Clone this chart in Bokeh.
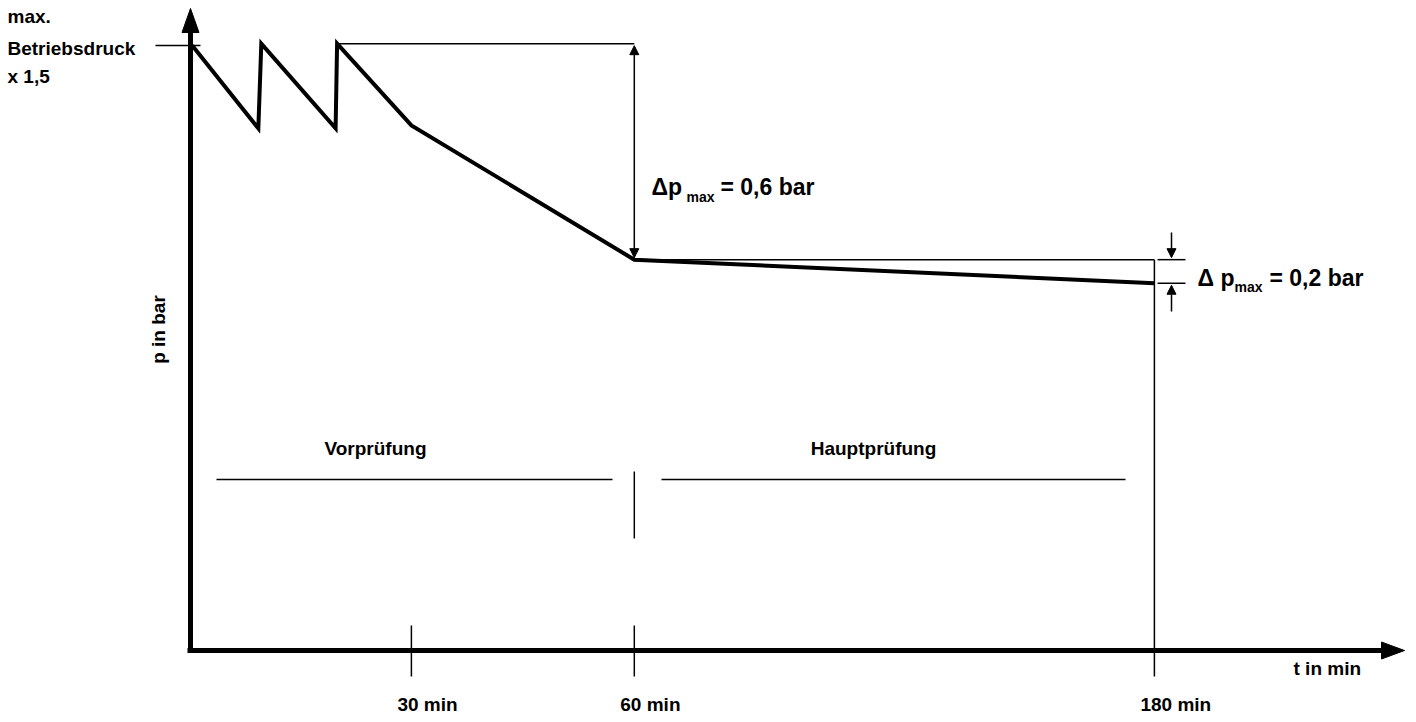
from bokeh.plotting import figure
from bokeh.models import Range1d, Arrow, NormalHead, Label
from bokeh.embed import file_html
from bokeh.resources import INLINE
from bokeh.core.properties import value

# ---- data (schematic time units / schematic pressure units) ----
time_pts = [0.5, 9.4, 9.8, 19.8, 20.0, 30.0, 60.0, 130.0]
pressure_pts = [10.0, 8.63, 10.03, 8.63, 10.03, 8.68, 6.46, 6.07]
tick_times = [30, 60, 130]
tick_labels = ["30 min", "60 min", "180 min"]
phase_labels = ["Vorprüfung", "Hauptprüfung"]
delta_values = ["0,6", "0,2"]
y_label_lines = ["max.", "Betriebsdruck", "x 1,5"]

# ---- layout constants (screen pixels) ----
W, H = 1408, 714
OX, OY = 0, 0
X0, KX = 188.0, 7.43
Y0, KY = 650.0, 60.5
TY = -7  # text baseline correction


def sx(X):
    return (X - X0) / KX


def sy(Y):
    return (Y0 - Y) / KY


p = figure(width=W, height=H, output_backend="svg", toolbar_location=None,
           x_axis_type=None, y_axis_type=None, min_border=0,
           x_range=Range1d(sx(OX), sx(OX + W)), y_range=Range1d(sy(OY + H), sy(OY)))
p.grid.visible = False
p.outline_line_color = None
p.background_fill_color = "white"
p.border_fill_color = "white"

FONT = "Liberation Sans"

# axes
p.line([sx(190), sx(190)], [sy(652), sy(30)], line_width=5, color="black")
p.line([sx(187), sx(1384)], [sy(650), sy(650)], line_width=5, color="black")
p.patch([sx(181.5), sx(190), sx(198.5)], [sy(32), sy(8), sy(32)], color="black")
p.patch([sx(1381), sx(1404), sx(1381)], [sy(641.5), sy(650), sy(658.5)], color="black")

# pressure curve
p.line(time_pts, pressure_pts, line_width=4, color="black", line_join="miter")

# reference lines
p_top = pressure_pts[4]
p_knee = pressure_pts[6]
p_end = pressure_pts[7]
t60 = tick_times[1]
t180 = tick_times[2]
p.line([sx(155), sx(200)], [pressure_pts[0], pressure_pts[0]], line_width=1.5, color="black")
p.line([time_pts[4], t60], [p_top, p_top], line_width=1.5, color="black")
p.line([t60, t180], [p_knee, p_knee], line_width=1.5, color="black")
p.line([t180, t180], [p_knee, sy(676)], line_width=1.5, color="black")

# ticks
for t in tick_times[:2]:
    p.line([t, t], [sy(625), sy(676)], line_width=1.5, color="black")

# double arrow 0.6 bar
p.add_layout(Arrow(x_start=t60, y_start=p_top - 2 / KY, x_end=t60, y_end=p_knee + 2 / KY,
                   start=NormalHead(size=9, fill_color="black", line_color="black"),
                   end=NormalHead(size=9, fill_color="black", line_color="black"),
                   line_width=1.5, line_color="black"))

# small arrows 0.2 bar
xa = sx(1171)
p.line([sx(1157), sx(1185)], [p_knee, p_knee], line_width=1.5, color="black")
p.line([sx(1157), sx(1185)], [p_end, p_end], line_width=1.5, color="black")
p.add_layout(Arrow(x_start=xa, y_start=sy(232), x_end=xa, y_end=p_knee + 2 / KY,
                   end=NormalHead(size=9, fill_color="black", line_color="black"),
                   line_width=1.5, line_color="black"))
p.add_layout(Arrow(x_start=xa, y_start=sy(311), x_end=xa, y_end=p_end - 2 / KY,
                   end=NormalHead(size=9, fill_color="black", line_color="black"),
                   line_width=1.5, line_color="black"))

# phase lines
p.line([sx(216), sx(612)], [sy(479), sy(479)], line_width=1.5, color="black")
p.line([sx(661), sx(1125)], [sy(479), sy(479)], line_width=1.5, color="black")
p.line([t60, t60], [sy(471), sy(538)], line_width=1.5, color="black")


def lab(txt, X, Y, size, align="left", baseline="alphabetic", angle=0.0, shift=True):
    yy = Y + TY if shift else Y
    p.add_layout(Label(x=sx(X), y=sy(yy), text=txt, text_font=FONT, text_font_style="bold",
                       text_font_size=f"{size}px", text_align=align, text_baseline=baseline,
                       angle=angle, text_color="black"))


# y label block
lab(y_label_lines[0], 7, 23, 19)
lab(y_label_lines[1], 7, 55, 19)
lab(y_label_lines[2], 7, 83, 19)
lab("p in bar", 158, 329, 19, align="center", baseline="middle", angle=1.5707963, shift=False)
lab("t in min", 1293, 675, 19)

# phase labels
p.text(x=[sx(375), sx(873)], y=[sy(455 + TY)] * 2, text=phase_labels,
       text_font=value(FONT), text_font_style="bold", text_font_size="19px",
       text_align="center", text_baseline="alphabetic", text_color="black")

# tick labels
p.text(x=tick_times, y=[sy(711 + TY)] * 3, text=tick_labels, x_offset=-14,
       text_font=value(FONT), text_font_style="bold", text_font_size="19px",
       text_align="left", text_baseline="alphabetic", text_color="black")

# delta labels
lab("\u0394p", 651, 193, 23)
lab("max", 686, 203, 14)
lab(f"= {delta_values[0]} bar", 720, 193, 23)
lab("\u0394 p", 1197, 284, 23)
lab("max", 1234, 293, 14)
lab(f"= {delta_values[1]} bar", 1269, 284, 23)

open("out.html", "w").write(file_html(p, INLINE))
